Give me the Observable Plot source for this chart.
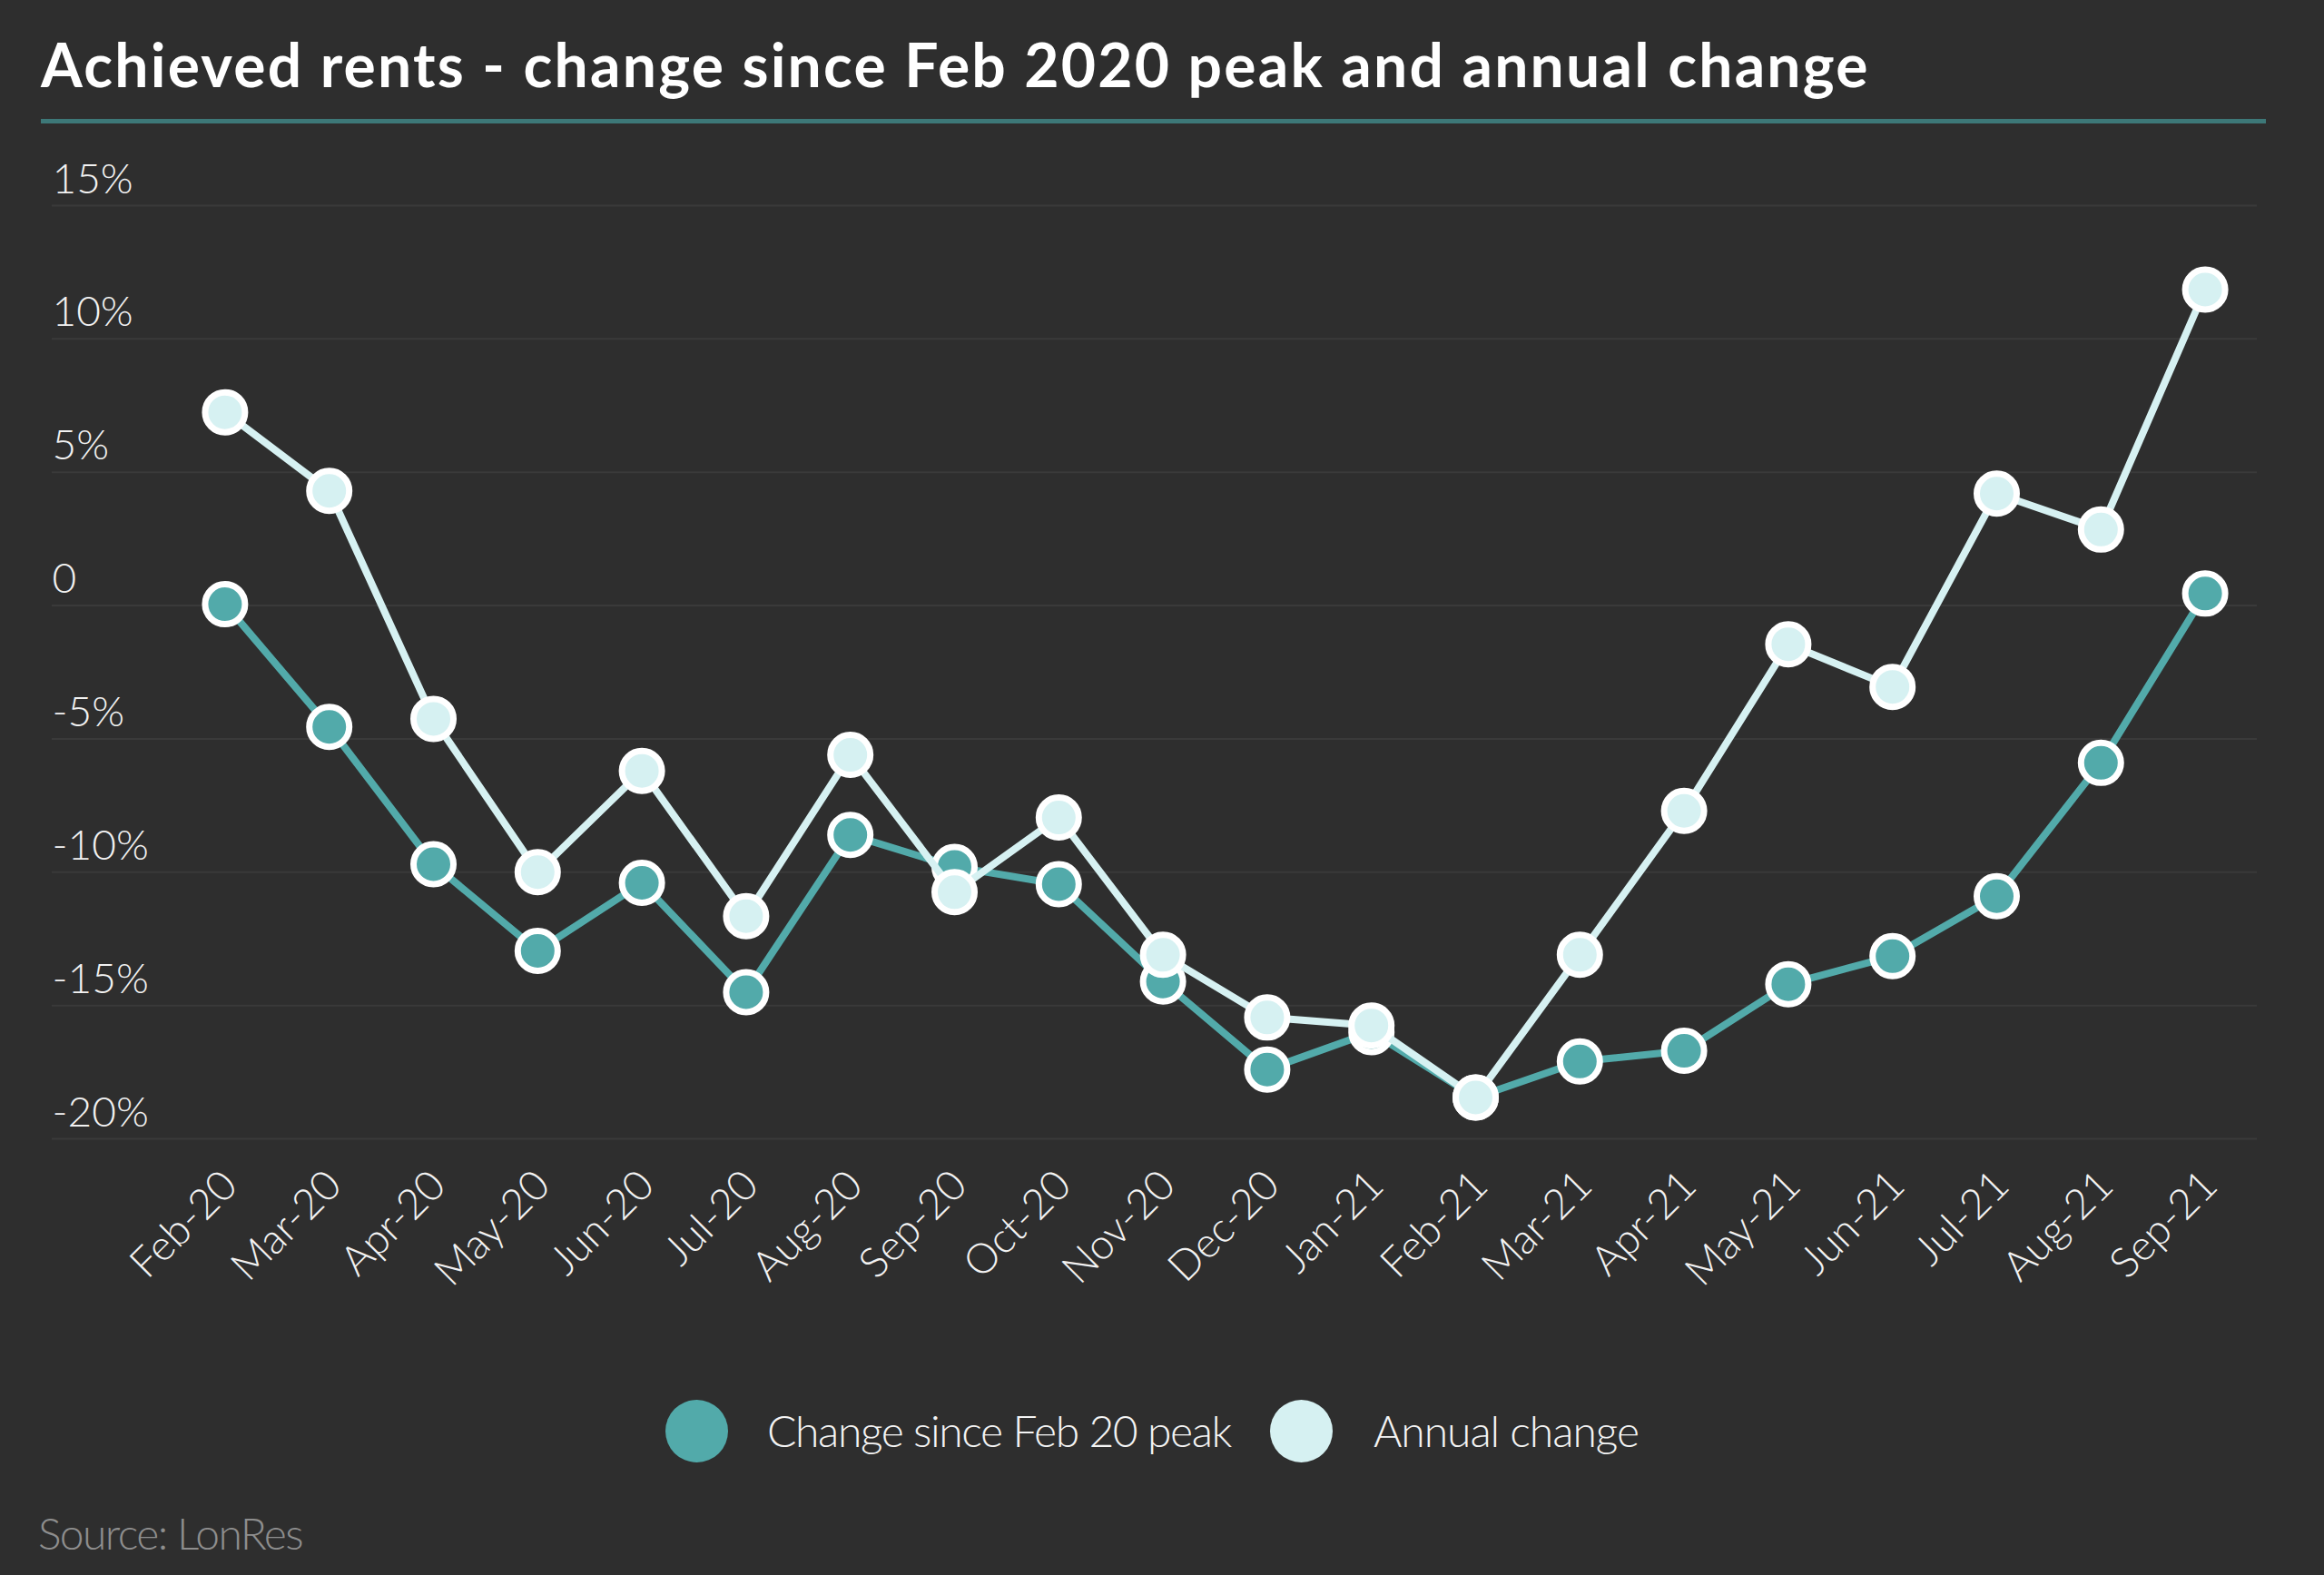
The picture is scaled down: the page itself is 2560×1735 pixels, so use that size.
<!DOCTYPE html>
<html>
<head>
<meta charset="utf-8">
<script src="https://cdn.jsdelivr.net/npm/d3@7"></script>
<script src="https://cdn.jsdelivr.net/npm/@observablehq/plot@0.6"></script>
<style>
  html, body { margin: 0; padding: 0; background: #2e2e2e; width: 2560px; height: 1735px; overflow: hidden; }
  body { position: relative; font-family: Lato, "Open Sans", sans-serif; color: #f2f2f2; }
  #title { position: absolute; left: 45px; top: 38px; font-size: 66px; line-height: 66px; font-weight: 700; color: #ffffff; white-space: nowrap; }
  #rule { position: absolute; left: 45px; top: 131px; width: 2451px; height: 5px; background: #3d7878; }
  #chart { position: absolute; left: 0; top: 150px; }
  .leg { position: absolute; top: 1541px; height: 70px; display: flex; align-items: center; }
  .sw { width: 69px; height: 69px; border-radius: 50%; }
  .lt { font-size: 48px; line-height: 48px; font-weight: 300; color: #f4f4f4; white-space: nowrap; }
  #source { position: absolute; left: 42px; top: 1665px; font-size: 48px; line-height: 48px; font-weight: 300; color: #8e8e8e; white-space: nowrap; }
</style>
</head>
<body>
<div id="title">Achieved rents - change since Feb 2020 peak and annual change</div>
<div id="rule"></div>
<div id="chart"></div>
<div id="legend"></div>
<div id="source">Source: LonRes</div>
<script>
const months = ["Feb-20","Mar-20","Apr-20","May-20","Jun-20","Jul-20","Aug-20","Sep-20","Oct-20","Nov-20","Dec-20","Jan-21","Feb-21","Mar-21","Apr-21","May-21","Jun-21","Jul-21","Aug-21","Sep-21"];
const changeSincePeak = [0.05, -4.55, -9.7, -12.95, -10.4, -14.5, -8.6, -9.8, -10.45, -14.1, -17.4, -16.0, -18.45, -17.1, -16.7, -14.2, -13.15, -10.9, -5.9, 0.45];
const annualChange = [7.25, 4.3, -4.25, -10.0, -6.2, -11.65, -5.6, -10.75, -7.95, -13.1, -15.45, -15.75, -18.45, -13.1, -7.7, -1.45, -3.05, 4.2, 2.85, 11.85];
const yTicks = [15, 10, 5, 0, -5, -10, -15, -20];
const yTickLabels = ["15%", "10%", "5%", "0", "-5%", "-10%", "-15%", "-20%"];
const seriesNames = ["Change since Feb 20 peak", "Annual change"];
const seriesColors = ["#52aaaa", "#d6f1f2"];

const rowsA = months.map((m, i) => ({month: m, value: changeSincePeak[i]}));
const rowsB = months.map((m, i) => ({month: m, value: annualChange[i]}));
const tickRows = yTicks.map((v, i) => ({v, label: yTickLabels[i]}));

const chart = Plot.plot({
  width: 2560,
  height: 1300,
  marginLeft: 190,
  marginRight: 74,
  marginTop: 76,
  marginBottom: 196,
  style: {background: "transparent", color: "#f2f2f2", fontFamily: "Lato, 'Open Sans', sans-serif", overflow: "visible"},
  x: {type: "point", domain: months, padding: 0.5, round: false, axis: null},
  y: {domain: [-20, 15], axis: null},
  marks: [
    Plot.ruleY(yTicks, {stroke: "#3a3a3a", strokeWidth: 2, insetLeft: -133}),
    Plot.text(tickRows, {y: "v", text: "label", frameAnchor: "left", textAnchor: "start", lineAnchor: "bottom", dx: -133, dy: -14, fontSize: 46, fontWeight: 300, fill: "#f2f2f2"}),
    Plot.text(months, {x: d => d, text: d => d, frameAnchor: "bottom", rotate: -45, textAnchor: "end", lineAnchor: "bottom", dx: 16, dy: 54, fontSize: 46, fontWeight: 300, fill: "#f2f2f2"}),
    Plot.line(rowsA, {x: "month", y: "value", stroke: seriesColors[0], strokeWidth: 8}),
    Plot.dot(rowsA, {x: "month", y: "value", r: 22, fill: seriesColors[0], stroke: "#ffffff", strokeWidth: 7}),
    Plot.line(rowsB, {x: "month", y: "value", stroke: seriesColors[1], strokeWidth: 8}),
    Plot.dot(rowsB, {x: "month", y: "value", r: 22, fill: seriesColors[1], stroke: "#ffffff", strokeWidth: 7})
  ]
});
document.getElementById("chart").appendChild(chart);

// fit a text element's width to a measured target by adjusting letter spacing
function fitWidth(el, target) {
  const w = el.getBoundingClientRect().width;
  const n = el.textContent.length;
  el.style.letterSpacing = ((target - w) / n).toFixed(2) + "px";
}

// legend
const legend = document.getElementById("legend");
const legPos = [{sw: 733, txt: 845, w: 511}, {sw: 1399, txt: 1513, w: 292}];
seriesNames.forEach((name, i) => {
  const s = document.createElement("div");
  s.className = "leg";
  s.style.left = legPos[i].sw + "px";
  const c = document.createElement("div");
  c.className = "sw";
  c.style.background = seriesColors[i];
  s.appendChild(c);
  legend.appendChild(s);
  const t = document.createElement("div");
  t.className = "leg";
  t.style.left = legPos[i].txt + "px";
  const sp = document.createElement("span");
  sp.className = "lt";
  sp.textContent = name;
  t.appendChild(sp);
  legend.appendChild(t);
  fitWidth(sp, legPos[i].w);
});

fitWidth(document.getElementById("title"), 2015);
fitWidth(document.getElementById("source"), 291);
</script>
</body>
</html>
